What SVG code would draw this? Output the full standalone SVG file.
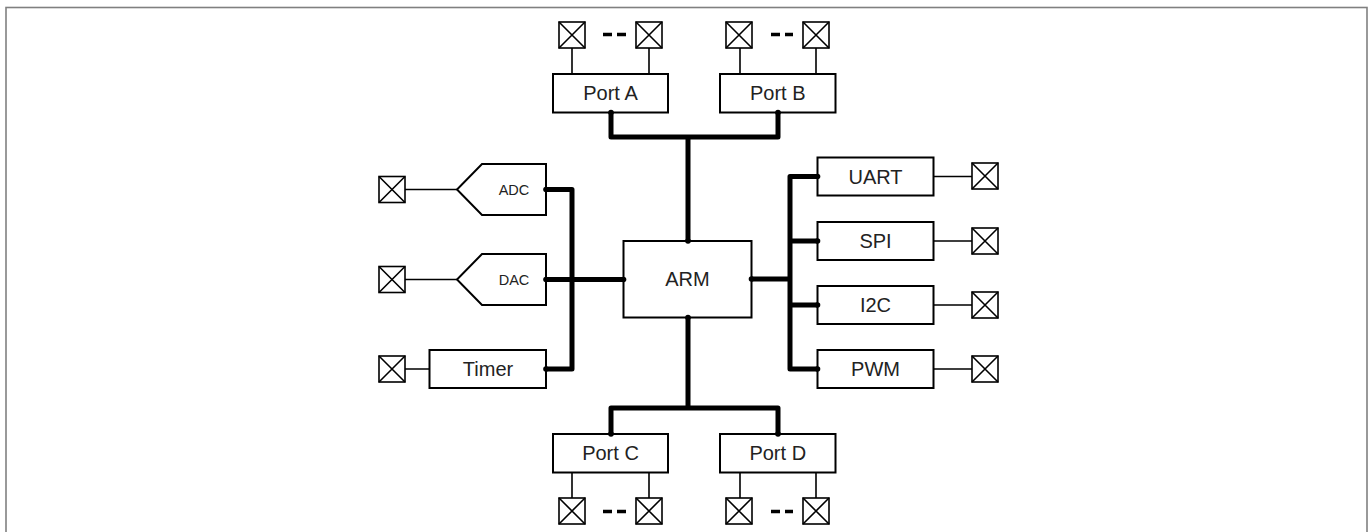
<svg xmlns="http://www.w3.org/2000/svg" width="1370" height="532" viewBox="0 0 1370 532">
<style>
.box{fill:#fff;stroke:#000;stroke-width:2}
.pin{fill:#fff;stroke:#000;stroke-width:1.6}
.w{stroke:#000;stroke-width:1.6;fill:none}
.bus{stroke:#000;stroke-width:5;fill:none;stroke-linejoin:round;stroke-linecap:butt}
.dash{stroke:#000;stroke-width:3.5;stroke-dasharray:9 5;fill:none}
.t{font-family:"Liberation Sans",Arial,sans-serif;font-size:20px;text-anchor:middle;fill:#222}
.ts{font-family:"Liberation Sans",Arial,sans-serif;font-size:14.5px;text-anchor:middle;fill:#222}
.dot{fill:#000}
</style>
<defs>
<g id="pinsym"><rect class="pin" x="-13" y="-13" width="26" height="26"/><path class="w" d="M-13,-13L13,13M13,-13L-13,13"/></g>
</defs>
<rect x="6" y="7.5" width="1361" height="540" fill="#fff" stroke="#808080" stroke-width="1.6"/>

<g id="connectors">
<path class="bus" d="M611,112V137H778V112M688,137V241"/>
<path class="bus" d="M688,317.5V408M611,434V408H778V434"/>
<path class="bus" d="M546,189.5H572V369H546M546,279.5H623.5"/>
<path class="bus" d="M817,176.5H790V369H817M790,241H817M790,305H817M751.5,279H790"/>
<path class="w" d="M572,48V74M649,48V74M740,48V74M816,48V74"/>
<path class="w" d="M572,472.5V498M649,472.5V498M740,472.5V498M816,472.5V498"/>
<path class="w" d="M405,189.5H457M405,279.5H457M405,369H429"/>
<path class="w" d="M933,176.5H972M933,241H972M933,305H972M933,369H972"/>
<path class="dash" d="M603,34.5H626M771,34.5H793M603,511.5H626M771,511.5H793"/>
</g>

<g id="arm"><rect class="box" x="623.5" y="241" width="128" height="76.5"/><text class="t" x="687.5" y="286">ARM</text></g>
<g id="portA"><rect class="box" x="553" y="74" width="115" height="38.5"/><text class="t" x="610.5" y="100">Port A</text></g>
<g id="portB"><rect class="box" x="720" y="74" width="115.5" height="38.5"/><text class="t" x="777.75" y="100">Port B</text></g>
<g id="portC"><rect class="box" x="553" y="434" width="115" height="38.5"/><text class="t" x="610.5" y="460">Port C</text></g>
<g id="portD"><rect class="box" x="720" y="434" width="115.5" height="38.5"/><text class="t" x="777.75" y="460">Port D</text></g>
<g id="adc"><path class="box" d="M482,164H546V215H482L457,189.5Z"/><text class="ts" x="514" y="195">ADC</text></g>
<g id="dac"><path class="box" d="M482,254H546V305H482L457,279.5Z"/><text class="ts" x="514" y="285">DAC</text></g>
<g id="timer"><rect class="box" x="429.5" y="350" width="116.5" height="38"/><text class="t" x="488" y="376">Timer</text></g>
<g id="uart"><rect class="box" x="817.5" y="157.5" width="116" height="38"/><text class="t" x="875.5" y="183.5">UART</text></g>
<g id="spi"><rect class="box" x="817.5" y="222" width="116" height="38"/><text class="t" x="875.5" y="248">SPI</text></g>
<g id="i2c"><rect class="box" x="817.5" y="286" width="116" height="38"/><text class="t" x="875.5" y="312">I2C</text></g>
<g id="pwm"><rect class="box" x="817.5" y="350" width="116" height="38"/><text class="t" x="875.5" y="376">PWM</text></g>

<g id="pins">
<use href="#pinsym" x="572" y="35"/><use href="#pinsym" x="649" y="35"/>
<use href="#pinsym" x="739" y="35"/><use href="#pinsym" x="816" y="35"/>
<use href="#pinsym" x="572" y="511"/><use href="#pinsym" x="649" y="511"/>
<use href="#pinsym" x="739" y="511"/><use href="#pinsym" x="816" y="511"/>
<use href="#pinsym" x="392" y="189.5"/><use href="#pinsym" x="392" y="279.5"/><use href="#pinsym" x="392" y="369"/>
<use href="#pinsym" x="985" y="176"/><use href="#pinsym" x="985" y="241"/><use href="#pinsym" x="985" y="305"/><use href="#pinsym" x="985" y="369"/>
</g>

<g id="dots">
<circle class="dot" cx="611" cy="112.5" r="2.8"/><circle class="dot" cx="778" cy="112.5" r="2.8"/>
<circle class="dot" cx="688" cy="241" r="2.8"/><circle class="dot" cx="688" cy="317.5" r="2.8"/>
<circle class="dot" cx="623.5" cy="279.5" r="2.8"/><circle class="dot" cx="751.5" cy="279" r="2.8"/>
<circle class="dot" cx="611" cy="434" r="2.8"/><circle class="dot" cx="778" cy="434" r="2.8"/>
<circle class="dot" cx="546" cy="189.5" r="2.8"/><circle class="dot" cx="546" cy="279.5" r="2.8"/><circle class="dot" cx="546" cy="369" r="2.8"/>
<circle class="dot" cx="817.5" cy="176.5" r="2.8"/><circle class="dot" cx="817.5" cy="241" r="2.8"/><circle class="dot" cx="817.5" cy="305" r="2.8"/><circle class="dot" cx="817.5" cy="369" r="2.8"/>
</g>
</svg>
